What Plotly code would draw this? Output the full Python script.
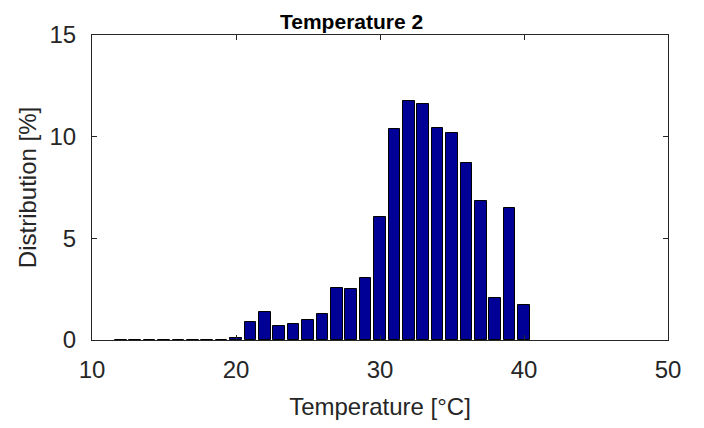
import plotly.graph_objects as go

temps = [12, 13, 14, 15, 16, 17, 18, 19, 20, 21, 22, 23, 24, 25, 26, 27, 28, 29, 30,
         31, 32, 33, 34, 35, 36, 37, 38, 39, 40]
dist = [0.02, 0.02, 0.02, 0.02, 0.02, 0.02, 0.02, 0.02, 0.1, 0.88, 1.36, 0.68, 0.81,
        0.96, 1.28, 2.57, 2.51, 3.04, 6.05, 10.37, 11.76, 11.63, 10.42, 10.16, 8.71,
        6.85, 2.05, 6.47, 1.70]
x_ticks = [10, 20, 30, 40, 50]
y_ticks = [0, 5, 10, 15]
title_text = "Temperature 2"

text_color = "#262626"
font_family = "Liberation Sans, Arial, sans-serif"

fig = go.Figure(go.Bar(
    x=temps, y=dist, width=0.8,
    marker=dict(color="#000096", line=dict(color="black", width=1)),
))

axis_common = dict(
    showgrid=False, zeroline=False, showline=True, linecolor=text_color, linewidth=1,
    mirror="ticks", ticks="inside", ticklen=5, tickcolor=text_color,
    tickfont=dict(size=24, color=text_color, family=font_family),
)

# page body has an 8px default margin, so the figure is sized/offset to compensate
fig.update_layout(
    width=696, height=420,
    margin=dict(l=84, r=36, t=27, b=84),
    plot_bgcolor="white", paper_bgcolor="white",
    showlegend=False, bargap=0,
    xaxis=dict(range=[10, 50], tickvals=x_ticks, ticklabelstandoff=8,
               title=dict(text="Temperature [°C]", standoff=16,
                          font=dict(size=24, color=text_color, family=font_family)),
               **axis_common),
    yaxis=dict(range=[0, 15], tickvals=y_ticks, ticklabelstandoff=10,
               title=dict(text="Distribution [%]", standoff=6,
                          font=dict(size=24, color=text_color, family=font_family)),
               **axis_common),
)

fig.add_annotation(
    text="<b>" + title_text + "</b>", xref="paper", yref="paper",
    x=0.45, y=1, xanchor="center", yanchor="middle", yshift=14,
    showarrow=False, font=dict(size=21, color="black", family=font_family),
)

fig.write_html("out.html")
